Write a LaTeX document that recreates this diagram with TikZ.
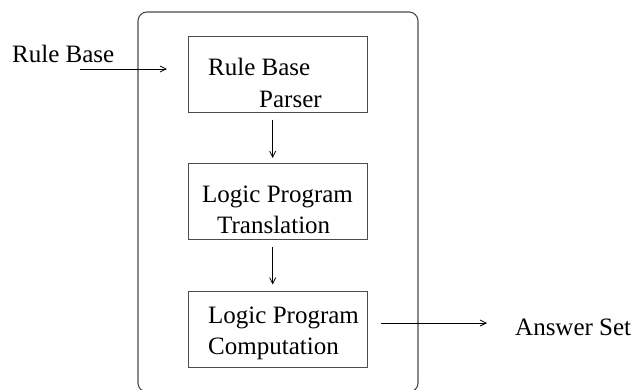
\documentclass[tikz,border=0pt]{standalone}
\usepackage{fontspec}
\setmainfont{Liberation Serif}
\usetikzlibrary{arrows.meta}
\begin{document}
\begin{tikzpicture}[x=1pt,y=-1pt,
  boxstyle/.style={draw=black!70,line width=1.1pt,minimum width=179pt,minimum height=76pt,inner sep=0pt},
  txt/.style={anchor=base west,inner sep=0pt,font=\fontsize{25}{30}\selectfont},
  arr/.style={draw=black,line width=0.8pt,-{Straight Barb[length=6pt,width=6pt]}}]
\useasboundingbox (0,0) rectangle (634,389);
\node[draw=black!70,line width=1.1pt,rounded corners=9pt,minimum width=280pt,minimum height=380pt,inner sep=0pt] (outer) at (278,202) {};
\node[boxstyle] (b1) at (278,74.7) {};
\node[boxstyle] (b2) at (277.7,201.5) {};
\node[boxstyle] (b3) at (278,329.7) {};
\node[txt] (t1a) at (208,75) {Rule Base};
\node[txt] (t1b) at (259,107) {Parser};
\node[txt] (t2a) at (202,202) {Logic Program};
\node[txt] (t2b) at (217,233) {Translation};
\node[txt] (t3a) at (208,323) {Logic Program};
\node[txt] (t3b) at (208,354) {Computation};
\node[txt] (rb) at (12,62) {Rule Base};
\node[txt] (as) at (515,335) {Answer Set};
\coordinate (inStart) at (80,69);
\coordinate (outEnd) at (487,323);
\draw[arr] (inStart) -- ([xshift=-21pt,yshift=5.7pt]b1.west);
\draw[arr] ([xshift=-5.3pt,yshift=-6.3pt]b1.south) -- ([xshift=-5pt,yshift=5pt]b2.north);
\draw[arr] ([xshift=-5pt,yshift=-7pt]b2.south) -- ([xshift=-5.3pt,yshift=6.7pt]b3.north);
\draw[arr] ([xshift=13pt,yshift=6.7pt]b3.east) -- (outEnd);
\end{tikzpicture}
\end{document}
